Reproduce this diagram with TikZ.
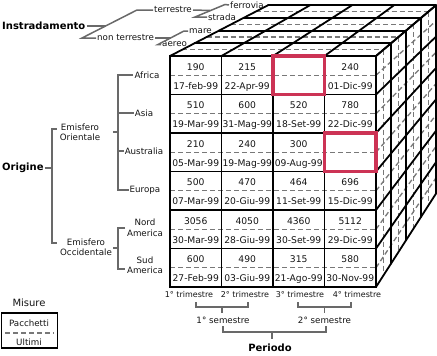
\documentclass[tikz,border=0pt]{standalone}
\usepackage{fontspec}
\setmainfont{DejaVu Sans}
\usetikzlibrary{calc}
\definecolor{hl}{RGB}{204,51,85}
\definecolor{dashc}{RGB}{120,120,120}
\definecolor{treec}{RGB}{105,105,105}
\definecolor{txt}{RGB}{20,20,20}
\begin{document}
\begin{tikzpicture}[x=1pt,y=-1pt,
  gridline/.style={line width=1.8pt,black,line cap=round},
  midline/.style={dashc,line width=1.3pt,dash pattern=on 5pt off 3pt},
  treeline/.style={treec,line width=1.5pt},
  lbl/.style={inner sep=1pt,text=txt,font=\fontsize{8.7}{10.5}\selectfont,align=center},
  small/.style={inner sep=1pt,text=txt,font=\fontsize{8}{9}\selectfont},
  cell/.style={inner sep=0pt,text=txt,font=\fontsize{9.2}{10}\selectfont,anchor=base},
  title/.style={inner sep=1pt,text=black,font=\bfseries\fontsize{10}{11}\selectfont},
  hlbox/.style={hl,line width=3.2pt},
]
\useasboundingbox (0,0) rectangle (437,356);
\coordinate (vp) at (701,-219);
\def\f{0.046125}
% ---- dashed mid lines
\foreach \y in {56,94.5,133,171.5,210,248.5} {
  \draw[midline] (170,\y+19.25) -- (376,\y+19.25);
  \draw[midline] (376,\y+19.25) -- ($(376,\y+19.25)!4*\f!(vp)$);
}
\foreach \d in {0.5,1.5,2.5,3.5} {
  \draw[midline] ($(170,56)!\d*\f!(vp)$) -- ($(376,56)!\d*\f!(vp)$);
  \draw[midline] ($(376,56)!\d*\f!(vp)$) -- ($(376,287)!\d*\f!(vp)$);
}
% ---- solid grid: top and right faces
\foreach \d in {1,2,3,4} {
  \draw[gridline] ($(170,56)!\d*\f!(vp)$) -- ($(376,56)!\d*\f!(vp)$);
  \draw[gridline] ($(376,56)!\d*\f!(vp)$) -- ($(376,287)!\d*\f!(vp)$);
}
\foreach \x in {170,221.5,273,324.5,376}
  \draw[gridline] (\x,56) -- ($(\x,56)!4*\f!(vp)$);
\foreach \y in {56,94.5,133,171.5,210,248.5,287}
  \draw[gridline] (376,\y) -- ($(376,\y)!4*\f!(vp)$);
% ---- front face
\foreach \x in {221.5,273,324.5} \draw[gridline] (\x,56) -- (\x,287);
\foreach \y in {94.5,133,171.5,210,248.5} \draw[gridline] (170,\y) -- (376,\y);
\draw[gridline] (170,56) rectangle (376,287);
% ---- highlighted cells
\draw[hlbox] (273,56) rectangle (324.5,94.5);
\draw[hlbox] (324.5,133) rectangle (376,171.5);
% ---- cell values
\foreach \c/\r/\n/\t in {
  0/0/190/17-feb-99, 1/0/215/22-Apr-99, 3/0/240/01-Dic-99,
  0/1/510/19-Mar-99, 1/1/600/31-Mag-99, 2/1/520/18-Set-99, 3/1/780/22-Dic-99,
  0/2/210/05-Mar-99, 1/2/240/19-Mag-99, 2/2/300/09-Aug-99,
  0/3/500/07-Mar-99, 1/3/470/20-Giu-99, 2/3/464/11-Set-99, 3/3/696/15-Dic-99,
  0/4/3056/30-Mar-99, 1/4/4050/28-Giu-99, 2/4/4360/30-Set-99, 3/4/5112/29-Dic-99,
  0/5/600/27-Feb-99, 1/5/490/03-Giu-99, 2/5/315/21-Ago-99, 3/5/580/30-Nov-99} {
  \node[cell] (n\c\r) at (195.75+51.5*\c,70+38.5*\r) {\n};
  \node[cell] (d\c\r) at (195.75+51.5*\c,89+38.5*\r) {\t};
}
% ---- Instradamento tree
\node[title,anchor=west] (instr) at (1,26) {Instradamento};
\node[lbl,anchor=west] (terr) at (153,10) {terrestre};
\node[lbl,anchor=west] (nonterr) at (96,38) {non terrestre};
\node[lbl,anchor=west] (ferr) at (229,5) {ferrovia};
\node[lbl,anchor=west] (strada) at (207,17) {strada};
\node[lbl,anchor=west] (mare) at (188,31) {mare};
\node[lbl,anchor=west] (aereo) at (161,44.5) {aereo};
\coordinate (i1) at (137,10); \coordinate (i2) at (82,38);
\draw[treeline] (terr.west) -- (i1) -- (i2) -- (nonterr.west);
\draw[treeline] (instr.east) -- (105.6,26);
\coordinate (t1) at (225,4.5); \coordinate (t2) at (195,17);
\draw[treeline] (ferr.west) -- (t1) -- (t2) -- (strada.west);
\draw[treeline] (terr.east) -- (210,10.5);
\coordinate (n1) at (184,31); \coordinate (n2) at (158,44.5);
\draw[treeline] (mare.west) -- (n1) -- (n2) -- (aereo.west);
\draw[treeline] (nonterr.east) -- (171,38);
% ---- Origine tree
\node[title,anchor=west] (orig) at (1,168) {Origine};
\draw[treeline] (orig.east) -- (52,168);
\draw[treeline] (57,129) -- (52,129) -- (52,243) -- (57,243);
\node[lbl] (eo) at (80,132.5) {Emisfero\\Orientale};
\node[lbl] (eocc) at (86,247.5) {Emisfero\\Occidentale};
\draw[treeline] (113,132) -- (118,132);
\node[lbl] (afr) at (147,75) {Africa};
\node[lbl] (asia) at (144,113) {Asia};
\node[lbl] (aus) at (144,151) {Australia};
\node[lbl] (eur) at (145,190) {Europa};
\draw[treeline] (afr.west) -- (118,75) -- (118,190) -- (eur.west);
\draw[treeline] (118,113) -- (asia.west);
\draw[treeline] (118,151) -- (aus.west);
\draw[treeline] (113,248) -- (118,248);
\node[lbl] (nam) at (145,228) {Nord\\America};
\node[lbl] (sam) at (145,265.5) {Sud\\America};
\draw[treeline] (125,228) -- (118,228) -- (118,269) -- (125,269);
% ---- Periodo tree
\node[small] (q1) at (189,295) {1° trimestre};
\node[small] (q2) at (245,295) {2° trimestre};
\node[small] (q3) at (300,295) {3° trimestre};
\node[small] (q4) at (357,295) {4° trimestre};
\draw[treeline] (196,302) -- (196,307) -- (248,307) -- (248,302);
\draw[treeline] (222,307) -- (222,313);
\draw[treeline] (298,302) -- (298,307) -- (351,307) -- (351,302);
\draw[treeline] (324.5,307) -- (324.5,313);
\node[lbl] (s1) at (223,320) {1° semestre};
\node[lbl] (s2) at (324.5,320) {2° semestre};
\draw[treeline] (223,326) -- (223,332) -- (326,332) -- (326,326);
\draw[treeline] (272,332) -- (272,339);
\node[title] (per) at (270,348) {Periodo};
% ---- legend
\node[lbl,font=\fontsize{10}{11}\selectfont] (mis) at (29,303) {Misure};
\draw[line width=1.6pt] (1.5,313) rectangle (57.5,348);
\node[lbl] (pac) at (29,323) {Pacchetti};
\draw[midline] (5,333) -- (54,333);
\node[lbl] (ult) at (29,342) {Ultimi};
\end{tikzpicture}
\end{document}
